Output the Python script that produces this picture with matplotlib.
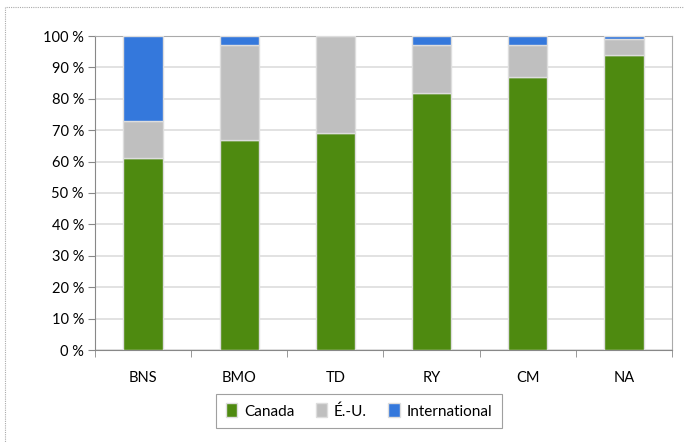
import numpy as np
import matplotlib.pyplot as plt
from matplotlib.patches import Rectangle

plt.rcParams['font.family'] = ['Lato', 'DejaVu Sans']

banks = ['BNS', 'BMO', 'TD', 'RY', 'CM', 'NA']
canada = [61, 67, 69, 82, 87, 94]
usa = [12, 30, 31, 15, 10, 5]
intl = [27, 3, 0, 3, 3, 1]
yticks = [0, 10, 20, 30, 40, 50, 60, 70, 80, 90, 100]

green = '#4E8A10'
grey = '#BFBFBF'
blue = '#3478DC'

fig = plt.figure(figsize=(6.84, 4.43), dpi=100)
ax = fig.add_axes([95 / 684, 1 - 350 / 443, 577 / 684, 314 / 443])

x = np.arange(len(banks))
w = 0.41
ec = '#DDDDDD'
ax.bar(x, canada, w, color=green, edgecolor=ec, linewidth=1, label='Canada', zorder=3)
ax.bar(x, usa, w, bottom=canada, color=grey, edgecolor=ec, linewidth=1, label='É.-U.', zorder=3)
bot2 = np.array(canada) + np.array(usa)
ax.bar(x, intl, w, bottom=bot2, color=blue, edgecolor=ec, linewidth=1, label='International', zorder=3)

ax.set_xlim(-0.5, len(banks) - 0.5)
ax.set_ylim(0, 100)
ax.set_yticks(yticks)
ax.set_yticklabels([f'{v} %' for v in yticks], fontsize=10.5)
ax.set_xticks(x)
ax.set_xticklabels(banks, fontsize=10.5)
ax.tick_params(axis='x', length=0, pad=15)
ax.set_xticks(np.arange(-0.5, len(banks), 1), minor=True)
ax.tick_params(axis='x', which='minor', length=5, color='#888888')
ax.tick_params(axis='y', length=5, color='#888888', pad=3)
ax.grid(axis='y', color='#DDDDDD', linewidth=1.2, zorder=0)
for s in ax.spines.values():
    s.set_color('#AAAAAA')
ax.spines['left'].set_color('#888888')
ax.spines['bottom'].set_color('#888888')

leg = fig.legend(loc='center', bbox_to_anchor=(359 / 684, 1 - 411 / 443), ncol=3,
                 fontsize=11, frameon=True, fancybox=False, edgecolor='#888888',
                 handlelength=0.75, handleheight=1.0, handletextpad=0.45, columnspacing=1.4,
                 borderpad=0.6, borderaxespad=0)
leg.get_frame().set_linewidth(0.8)

# dotted chart border
fig.add_artist(Rectangle((5 / 684, -0.01), 1.0, 1 - 7 / 443 + 0.01, transform=fig.transFigure,
                         fill=False, edgecolor='#AAAAAA', linewidth=0.8, linestyle=(0, (1, 1))))

fig.savefig('out.png', dpi=100)
